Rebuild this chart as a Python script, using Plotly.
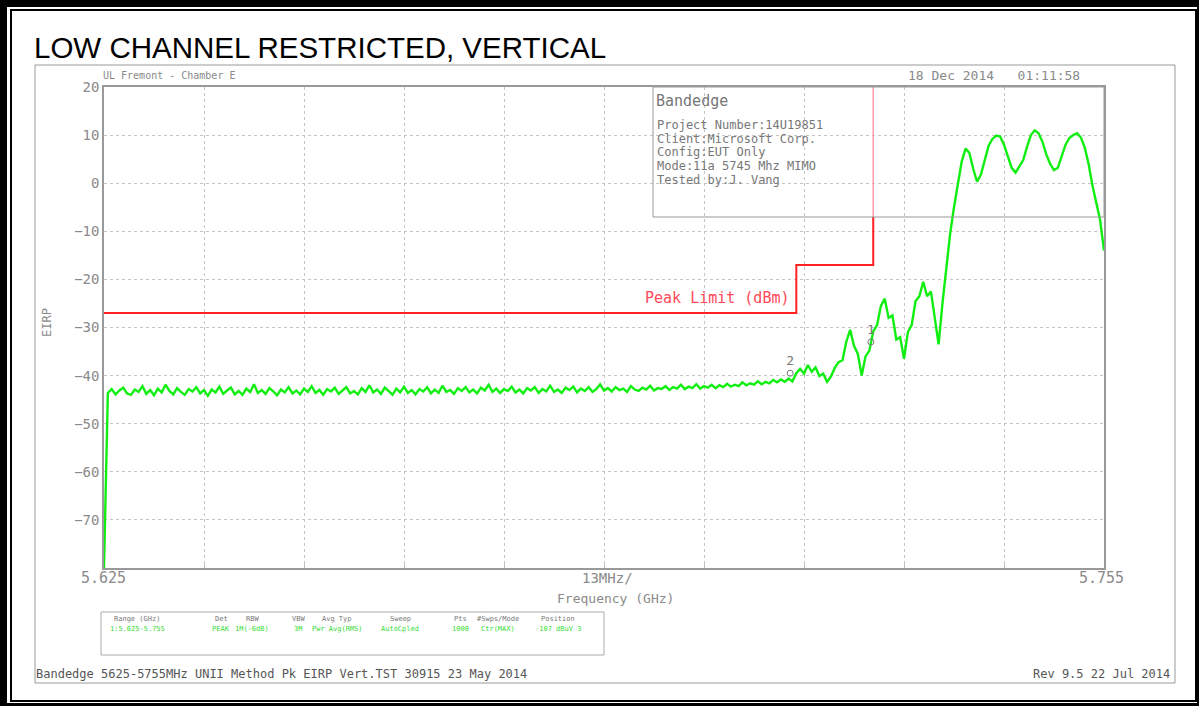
import numpy as np
import plotly.graph_objects as go

# sweep setup (GHz)
FREQ_START = 5.625
FREQ_STOP = 5.755
FREQ_STEP = 0.0005

# trace values (dBm EIRP), one per sweep step
EIRP_FLOOR = [
    -80.0,
    -43.6, -42.8, -43.9, -43.1, -42.5, -43.7, -44.0, -42.9, -43.4, -42.2,
    -43.8, -43.0, -44.1, -42.7, -43.5, -41.9, -43.2, -43.9, -42.6, -43.4,
    -44.0, -42.8, -43.3, -42.4, -43.7, -43.0, -44.2, -42.9, -43.5, -42.3,
    -43.8, -43.1, -42.5, -43.9, -43.2, -44.0, -42.7, -43.4, -41.8, -43.6,
    -43.0, -43.8, -42.6, -43.3, -44.1, -42.9, -43.5, -42.4, -43.7, -43.1,
    -43.9, -42.7, -43.4, -42.2, -43.6, -43.0, -44.0, -42.8, -43.3, -42.5,
    -43.8, -43.1, -42.4, -43.7, -43.2, -43.9, -42.6, -43.4, -42.0, -43.5,
    -42.9, -43.8, -42.5, -43.2, -44.0, -42.7, -43.5, -42.3, -43.6, -43.0,
    -43.9, -42.8, -43.3, -42.4, -43.7, -42.9, -43.6, -42.1, -43.4, -43.0,
    -43.8, -42.6, -43.2, -42.4, -43.5, -42.9, -43.7, -42.5, -43.1, -41.9,
    -43.4, -42.7, -43.6, -42.8, -43.2, -42.3, -43.5, -42.9, -43.7, -42.6,
    -43.1, -42.4, -43.6, -42.8, -43.3, -42.1, -43.4, -42.9, -43.6, -42.5,
    -43.0, -42.3, -43.5, -42.7, -43.2, -42.4, -43.4, -42.8, -41.8, -43.1,
    -42.6, -43.3, -42.4, -43.0, -42.7, -43.4, -42.2, -42.9, -43.2, -42.5,
    -42.9, -42.1, -43.1, -42.6, -42.8, -42.2, -43.0, -42.4, -42.7, -41.9,
    -42.8, -42.3, -42.6, -41.8, -42.7, -42.2, -42.5, -41.9, -42.6, -42.0,
    -42.4, -41.7, -42.3, -41.9, -42.2, -41.4, -42.0, -41.6, -41.9, -41.2,
    -41.8, -41.3, -41.6, -40.9, -41.4, -40.8, -41.3,
]
EIRP_EDGE = [
    -40.6, -41.2, -39.5, -38.6, -39.6, -37.8, -39.2, -38.3, -40.1, -39.6,
    -41.3, -40.2, -38.4, -37.2, -36.8, -33.0, -30.5, -33.8, -35.5, -40.0,
    -36.0, -34.8, -30.8, -29.5, -25.5, -24.0, -28.0, -27.5, -32.5, -32.0,
    -36.5, -31.0, -29.5, -24.5, -23.5, -20.5, -23.5, -22.5, -28.0, -33.5,
    -25.0, -17.0, -10.5, -5.0, -0.5, 4.5, 7.2, 6.3, 3.0, 0.3,
    1.8, 5.0, 7.8, 9.2, 9.9, 9.7, 8.0, 5.6, 3.2, 2.2,
    3.4, 4.8, 7.6, 10.0, 11.0, 10.4, 8.6, 6.0, 4.0, 2.7,
    3.2, 5.6, 8.0, 9.4, 10.0, 10.4, 9.5, 7.4, 4.0, -0.5,
    -4.0, -7.7, -14.0,
]
EIRP = EIRP_FLOOR + EIRP_EDGE

# peak limit line (GHz, dBm)
LIMIT_FREQ = [5.625, 5.715, 5.715, 5.725, 5.725]
LIMIT_DBM = [-27, -27, -17, -17, -7]
LIMIT_TOP_FREQ = [5.725, 5.725]
LIMIT_TOP_DBM = [-7, 20]

# markers
MARKER_FREQ = [5.7247, 5.7142]
MARKER_DBM = [-33.0, -39.5]
MARKER_LABELS = ["1", "2"]

Y_TICKS = [20, 10, 0, -10, -20, -30, -40, -50, -60, -70]

INFO_LINES = ["Project Number:14U19851", "Client:Microsoft Corp.", "Config:EUT Only",
              "Mode:11a 5745 Mhz MIMO", "Tested by:J. Vang"]
TABLE_HEAD = ["Range (GHz)", "Det", "RBW", "VBW", "Avg Typ", "Sweep", "Pts", "#Swps/Mode", "Position"]
TABLE_VALS = ["1:5.625-5.755", "PEAK", "1M(-6dB)", "3M", "Pwr Avg(RMS)", "AutoCpled", "1000", "Ctr(MAX)", "-107 dBuV 3"]
TABLE_X = [137, 221, 252, 298, 337, 400, 460, 498, 558]

freqs = FREQ_START + FREQ_STEP * np.arange(len(EIRP))
assert abs(freqs[-1] - FREQ_STOP) < 1e-9, len(EIRP)

W, H = 1199, 706
L, R, T, B = 104, 1104, 87, 568
MONO = "DejaVu Sans Mono"
GRAY = "#8a8a8a"


def px(x, y):
    return (x - L) / (R - L), (B - y) / (B - T)


fig = go.Figure()
fig.add_trace(go.Scatter(x=LIMIT_FREQ, y=LIMIT_DBM, mode="lines",
                         line=dict(color="#ff2020", width=2), hoverinfo="skip"))
fig.add_trace(go.Scatter(x=LIMIT_TOP_FREQ, y=LIMIT_TOP_DBM, mode="lines",
                         line=dict(color="#ff9aa8", width=1.5), hoverinfo="skip"))
fig.add_trace(go.Scatter(x=freqs, y=EIRP, mode="lines",
                         line=dict(color="#11ee11", width=2.4)))
fig.add_trace(go.Scatter(x=MARKER_FREQ, y=MARKER_DBM, mode="markers+text",
                         text=MARKER_LABELS, textposition="top center",
                         textfont=dict(family=MONO, size=13, color="#777"),
                         marker=dict(symbol="circle-open", size=6, color="#777", line=dict(width=1))))

annots = []


def text(x, y, s, size=12, color=GRAY, xanchor="left", family=MONO, angle=0):
    xp, yp = px(x, y)
    annots.append(dict(x=xp, y=yp, xref="paper", yref="paper", text=s, showarrow=False,
                       xanchor=xanchor, yanchor="middle", textangle=angle,
                       font=dict(family=family, size=size, color=color)))


text(32, 47, "LOW CHANNEL RESTRICTED, VERTICAL", 29.5, "#000", family="Liberation Sans")
text(101, 76, "UL Fremont - Chamber E", 10)
text(906, 75, "18 Dec 2014   01:11:58", 13)
text(47, 323, "EIRP", 12, angle=-90, xanchor="center")
text(103, 578, "5.625", 15, xanchor="center")
text(607, 578, "13MHz/", 14, xanchor="center")
text(1101, 578, "5.755", 15, xanchor="center")
text(615, 598, "Frequency (GHz)", 13, xanchor="center")
text(792, 298, "Peak Limit (dBm)", 15, "#ff4858", xanchor="right")
text(654, 101, "Bandedge", 15, "#777")
for i, s in enumerate(INFO_LINES):
    text(655, 125 + i * 13.7, s, 12, "#777")
for hx, h, v in zip(TABLE_X, TABLE_HEAD, TABLE_VALS):
    text(hx, 619, h, 7, "#777", xanchor="center")
    text(hx, 629, v, 7, "#33dd33", xanchor="center")
text(34, 674, "Bandedge 5625-5755MHz UNII Method Pk EIRP Vert.TST 30915 23 May 2014", 12, "#555")
text(1172, 674, "Rev 9.5 22 Jul 2014", 12, "#555", xanchor="right")

shapes = []


def rect(x0, y0, x1, y1, color="#999", width=1, fill=None):
    a, b = px(x0, y0)
    c, d = px(x1, y1)
    shapes.append(dict(type="rect", xref="paper", yref="paper", x0=a, y0=b, x1=c, y1=d,
                       line=dict(color=color, width=width if fill is None else 0),
                       fillcolor=fill))


rect(35, 65, 1175, 683, "#999")
rect(653, 87, 1104, 217, "#999")
rect(101, 612, 604, 655, "#aaa")
# double black page frame
rect(0, 0, 7, 706, fill="#000")
rect(0, 0, 1199, 7, fill="#000")
rect(1197, 0, 1199, 706, fill="#000")
rect(0, 703, 1199, 706, fill="#000")
rect(11, 10, 1196, 701, "#000", 2)

fig.update_layout(
    width=W, height=H,
    margin=dict(l=L, r=W - R, t=T, b=H - B, autoexpand=False),
    paper_bgcolor="white", plot_bgcolor="white",
    showlegend=False,
    annotations=annots, shapes=shapes,
    xaxis=dict(range=[FREQ_START, FREQ_STOP], tick0=FREQ_START, dtick=0.013,
               showgrid=True, gridcolor="#c4c4c4", griddash="dot", gridwidth=1,
               showline=True, linecolor="#999", linewidth=1.5, mirror=True,
               ticks="inside", ticklen=4, tickcolor="#bbb",
               showticklabels=False, zeroline=False),
    yaxis=dict(range=[-80, 20], tickvals=Y_TICKS,
               showgrid=True, gridcolor="#c4c4c4", griddash="dot", gridwidth=1,
               showline=True, linecolor="#999", linewidth=1.5, mirror=True,
               tickfont=dict(family=MONO, size=14, color=GRAY),
               zeroline=False),
)

# drop the browser's default 8px body margin so the figure sits at the page origin
fig.write_html("out.html", config={"displayModeBar": False},
               post_script="document.body.style.margin='0';document.body.style.overflow='hidden';")
